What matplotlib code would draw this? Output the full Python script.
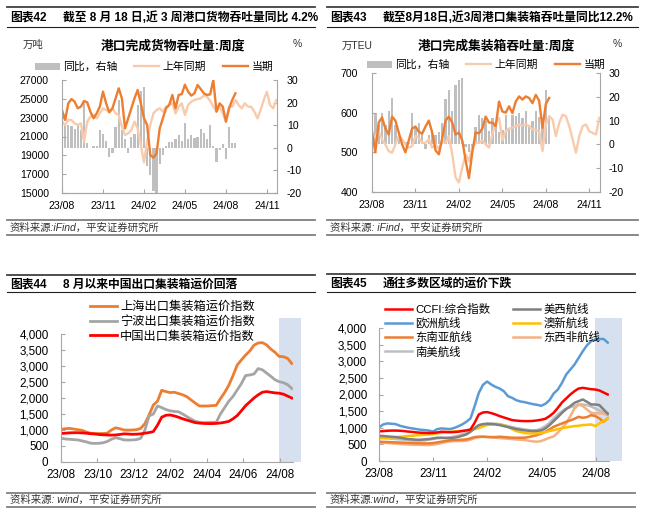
import matplotlib
matplotlib.use('Agg')
import matplotlib.pyplot as plt
import numpy as np
from matplotlib.lines import Line2D
from matplotlib.patches import Rectangle
from matplotlib.ticker import FuncFormatter

plt.rcParams['font.family'] = ['Liberation Sans', 'Noto Sans CJK SC']
plt.rcParams['axes.unicode_minus'] = False

# ---------------- data ----------------
# weekly, first point = early Aug 2023
port_months = ['23/08', '23/11', '24/02', '24/05', '24/08', '24/11']

# 图表42 port cargo throughput (万吨), yoy in %
cargo_now = [23800, 22750, 24520, 24980, 24700, 24000, 24170, 24770, 24630, 23640,
             22930, 23460, 24170, 25760, 24520, 23570, 23990, 25050, 26120, 25050,
             21870, 22930, 23990, 25050, 25940, 24520, 22930, 22220, 19040, 18750,
             19210, 21870, 22930, 23990, 24350, 25410, 23990, 25410, 25500, 26500,
             25760, 25340, 25580, 26470, 26040, 25580, 25410, 25480, 27000, 23640,
             24520, 24170, 22580, 23990, 24880, 25580]
cargo_last = [22575, 22221, 22752, 22752, 22398, 22221, 22398, 20451, 22575, 23106,
              23283, 22929, 23460, 23991, 23814, 23637, 23991, 23460, 23283, 22044,
              21159, 21336, 21690, 22575, 21867, 20097, 18256, 20451, 22221, 23460,
              23814, 23991, 23637, 24168, 24345, 24522, 23460, 24168, 24522, 23283,
              24345, 24699, 24876, 24982, 25053, 25336, 25230, 24770, 24168, 23637,
              24168, 23460, 22575, 24168, 24168, 24876, 24345, 23991, 24522, 24168,
              24168, 23637, 22929, 23814, 24876, 25761, 24345, 23991, 24876]
cargo_yoy = [2, 10, 10, 9.5, 8.5, 10, 8, 20, 2, 0,
             1, 1, 8, 6, 3, -4, -2.5, 9, 21, 8,
             4, -2.5, 5, 6, 19, 25, 27, -8, -12, -19,
             -20, -7, -3, 1, 2.5, 2.5, 4, 5.5, 3, 11,
             4, 5.5, 4.5, 5, 8.5, 6.5, 4, 10, 1, -6.5,
             -1, 1.5, -5, 9, 2, 2]

# 图表43 port container throughput (万TEU), yoy in %
teu_now = [553, 500, 575, 588, 560, 545, 590, 580, 550, 520,
           500, 530, 560, 565, 552, 547, 565, 580, 550, 505,
           495, 535, 580, 590, 575, 545, 550, 530, 480, 435,
           500, 550, 548, 560, 590, 575, 575, 566, 628, 603,
           600, 616, 599, 628, 641, 633, 641, 637, 624, 645,
           630, 562, 622, 637]
teu_last = [528, 541, 553, 533, 520, 503, 499, 520, 541, 533,
            520, 512, 516, 541, 537, 524, 524, 533, 512, 520,
            508, 528, 524, 541, 495, 437, 424, 462, 495, 478,
            512, 524, 524, 530, 520, 512, 545, 575, 587, 530,
            553, 560, 562, 566, 570, 568, 570, 566, 558, 556,
            553, 503, 570, 591, 583, 541, 574, 595, 591, 566,
            533, 499, 541, 566, 570, 553, 549, 545, 587]
teu_yoy = [14, 13, 8, 13, 8, 14, 19.5, 8, 5, 1,
           1, 0.5, 13, 7, 9, 5, -2, 4, 6, 4,
           5, 9, 19, 23, 14, 25, 27, 28, -1, -3,
           -1.5, 7.5, 12.5, 11, 10, 5.5, 11, 9.5, 5, 6,
           12.5, 7, 12.5, 12, 13, 11, 14, 8, 10, 14,
           11.5, 11, 23, 11]

# 图表44 export container freight indices
frt_months_44 = ['23/08', '23/10', '23/12', '24/02', '24/04', '24/06', '24/08']
scfi = [1020, 1040, 1050, 1030, 1010, 990, 940, 900, 890, 890,
        890, 900, 1000, 1070, 1040, 1000, 995, 1000, 1010, 1050,
        1200, 1470, 1780, 1900, 2240, 2200, 2170, 2180, 2140, 2100,
        2040, 1940, 1840, 1750, 1750, 1750, 1760, 1770, 1980, 2170,
        2400, 2700, 3030, 3190, 3340, 3470, 3650, 3720, 3730, 3660,
        3530, 3430, 3300, 3290, 3240, 3080]
ncfi = [740, 720, 710, 700, 690, 660, 630, 590, 580, 585,
        600, 640, 710, 760, 730, 690, 685, 690, 700, 740,
        1000, 1440, 1500, 1750, 1700, 1640, 1600, 1580, 1570, 1500,
        1420, 1340, 1270, 1240, 1230, 1235, 1240, 1240, 1500, 1700,
        1900, 2050, 2250, 2450, 2700, 2720, 2750, 2920, 2880, 2780,
        2680, 2570, 2510, 2480, 2420, 2300]
ccfi = [890, 900, 910, 915, 915, 910, 900, 885, 875, 860,
        850, 845, 840, 845, 860, 880, 875, 865, 870, 880,
        900, 920, 950, 1150, 1400, 1460, 1470, 1440, 1400, 1350,
        1310, 1270, 1230, 1215, 1205, 1200, 1200, 1205, 1220, 1240,
        1270, 1350, 1450, 1600, 1760, 1880, 2000, 2100, 2180, 2200,
        2180, 2160, 2150, 2120, 2060, 2000]

# 图表45 CCFI routes
frt_months_45 = ['23/08', '23/11', '24/02', '24/05', '24/08']
europe = [1010, 1100, 1130, 1120, 1110, 1060, 1030, 1000, 980, 960,
          940, 930, 915, 885, 960, 980, 970, 960, 990, 1040,
          1100, 1180, 1280, 1650, 2050, 2290, 2390, 2300, 2230, 2180,
          2100, 1950, 1900, 1830, 1790, 1770, 1740, 1710, 1690, 1660,
          1720, 1830, 2030, 2150, 2350, 2600, 2750, 2900, 3100, 3300,
          3480, 3600, 3660, 3670, 3670, 3560]
us_west = [760, 750, 740, 730, 720, 700, 680, 660, 650, 640,
           640, 650, 660, 680, 700, 700, 690, 690, 700, 720,
           760, 800, 880, 980, 1080, 1110, 1120, 1110, 1100, 1080,
           1050, 1020, 990, 960, 940, 920, 910, 900, 905, 920,
           980, 1080, 1200, 1320, 1450, 1560, 1650, 1750, 1800, 1850,
           1780, 1700, 1700, 1680, 1550, 1420]
s_america = [700, 690, 680, 670, 660, 650, 640, 630, 620, 615,
             610, 620, 640, 660, 680, 690, 700, 710, 730, 760,
             800, 850, 920, 1000, 1060, 1100, 1120, 1130, 1120, 1100,
             1080, 1050, 1020, 990, 970, 950, 930, 920, 930, 980,
             1050, 1150, 1280, 1400, 1500, 1580, 1620, 1650, 1700, 1700,
             1680, 1640, 1580, 1520, 1470, 1440]
aus_nz = [680, 690, 700, 710, 720, 730, 740, 750, 760, 770,
          780, 790, 800, 810, 830, 850, 860, 880, 890, 900,
          910, 920, 940, 960, 990, 1040, 1080, 1100, 1110, 1110,
          1070, 1030, 960, 900, 870, 840, 830, 830, 830, 840,
          870, 900, 930, 960, 990, 1010, 1030, 1050, 1060, 1080,
          1090, 1100, 1050, 1130, 1200, 1280]
se_asia = [580, 575, 570, 565, 560, 555, 550, 545, 540, 535,
           530, 530, 530, 540, 560, 580, 600, 620, 630, 630,
           640, 650, 680, 720, 730, 730, 725, 720, 720, 730,
           720, 710, 700, 700, 700, 700, 720, 750, 780, 820,
           880, 950, 1030, 1080, 1130, 1180, 1220, 1270, 1330, 1300,
           1320, 1380, 1350, 1280, 1180, 1280]
w_africa = [550, 545, 540, 530, 520, 510, 500, 495, 490, 490,
            485, 480, 480, 490, 510, 540, 570, 590, 600, 600,
            600, 610, 640, 690, 720, 730, 720, 710, 700, 690,
            680, 670, 660, 650, 640, 630, 610, 590, 580, 600,
            650, 700, 740, 850, 1000, 1130, 1350, 1580, 1700, 1650,
            1550, 1450, 1430, 1440, 1420, 1380]

# ---------------- layout helpers (pixel coords, origin top-left) ----------------
W, H = 650, 525
fig = plt.figure(figsize=(W / 100, H / 100), dpi=100)


def box(x0, y0, x1, y1):
    return [x0 / W, 1 - y1 / H, (x1 - x0) / W, (y1 - y0) / H]


def put(x, y, s, **kw):
    return fig.text(x / W, 1 - y / H, s, **kw)


def rule(x0, x1, y, lw=1.0, color='black'):
    fig.add_artist(Line2D([x0 / W, x1 / W], [1 - y / H, 1 - y / H], lw=lw, color=color))


def header(x0, x1, num, title, y_top, y_title, y_under):
    rule(x0, x1, y_top, lw=1.3, color='#404040')
    put(x0 + 3, y_title, num, fontsize=8.5, fontweight='bold', va='center')
    put(x0 + 56, y_title, title, fontsize=8.5, fontweight='bold', va='center')
    rule(x0, x1, y_under, lw=0.8, color='#202020')


def source(x0, x1, s, y_top, y_text, y_bot):
    rule(x0, x1, y_top, lw=1.3, color='#7f7f7f')
    put(x0 + 3, y_text, s, fontsize=7.5, style='italic', va='center', color='#333333')
    rule(x0, x1, y_bot, lw=1.3, color='#7f7f7f')


def style(ax, size):
    for s in ax.spines.values():
        s.set_color('#A6A6A6')
        s.set_linewidth(0.8)
    ax.tick_params(direction='in', length=3, width=0.8, color='#A6A6A6', labelsize=size)


thousands = FuncFormatter(lambda v, p: f'{v:,.0f}')


def port_panel(rect, now, last, yoy, ylim, ystep, lpad, rpad):
    ax = fig.add_axes(box(*rect))
    ax2 = ax.twinx()
    # lines above the bars of the twin axis
    ax.set_zorder(ax2.get_zorder() + 1)
    ax.patch.set_visible(False)
    bars = ax2.bar(np.arange(len(yoy)), yoy, width=0.7, color='#BFBFBF')
    l1, = ax.plot(np.arange(len(last)), last, color='#F8CBAD', lw=1.7)
    l2, = ax.plot(np.arange(len(now)), now, color='#ED7D31', lw=1.7)
    ax.set_xlim(0, 68.2)
    ax.set_ylim(*ylim)
    ax.set_yticks(np.arange(ylim[0], ylim[1] + 1, ystep))
    ax2.set_ylim(-20, 30)
    ax2.set_yticks(range(-20, 31, 10))
    ax.set_xticks(np.arange(len(port_months)) * 13)
    ax.set_xticklabels(port_months)
    for a in (ax, ax2):
        style(a, 7.6)
        a.spines['top'].set_visible(False)
    ax.spines['right'].set_visible(False)
    ax2.spines['left'].set_visible(False)
    ax.tick_params(axis='y', pad=lpad)
    ax.tick_params(axis='x', pad=6)
    ax2.tick_params(axis='y', pad=rpad)
    return bars, l1, l2


def leg_top(handles, cx, cy):
    fig.legend(handles, ['同比，右轴', '上年同期', '当期'], loc='center',
               bbox_to_anchor=(cx / W, 1 - cy / H), ncol=3, frameon=False,
               fontsize=7.8, handlelength=2.3, handletextpad=0.3, columnspacing=1.6,
               borderpad=0, borderaxespad=0)


# ---------------- 图表42 ----------------
header(7, 315, '图表42', '截至 8 月 18 日,近 3 周港口货物吞吐量同比 4.2%', 7, 18, 27)
put(173, 46, '港口完成货物吞吐量:周度', fontsize=9.2, fontweight='bold', ha='center', va='center')
put(23, 45, '万吨', fontsize=7.5, va='center', color='#333333')
put(293, 44, '%', fontsize=7.5, va='center', color='#333333')
h = port_panel((62, 80, 277, 193), cargo_now, cargo_last, cargo_yoy, (15000, 27000), 2000, 9.5, 7)
leg_top(h, 154, 67)
source(7, 315, '资料来源:iFind，平安证券研究所', 220, 228, 235)

# ---------------- 图表43 ----------------
header(327, 638, '图表43', '截至8月18日,近3周港口集装箱吞吐量同比12.2%', 7, 18, 27)
put(496, 46, '港口完成集装箱吞吐量:周度', fontsize=9.2, fontweight='bold', ha='center', va='center')
put(342, 46, '万TEU', fontsize=7.5, va='center', color='#333333')
put(613, 44, '%', fontsize=7.5, va='center', color='#333333')
h = port_panel((372, 73, 600, 192), teu_now, teu_last, teu_yoy, (400, 700), 100, 10, 6)
leg_top(h, 486, 65)
source(327, 638, '资料来源: iFind，平安证券研究所', 220, 228, 235)

# ---------------- 图表44 ----------------
header(7, 315, '图表44', '8 月以来中国出口集装箱运价回落', 275, 285, 292)
ax = fig.add_axes(box(61, 334, 293, 462))
wk = np.arange(len(scfi))
ax.add_patch(Rectangle((52, 0), 5.1, 4500, color='#D6E0EE', lw=0, zorder=0, clip_on=False))
la, = ax.plot(wk, scfi, color='#ED7D31', lw=2.0)
lb, = ax.plot(wk, ncfi, color='#A5A5A5', lw=2.0)
lc, = ax.plot(wk, ccfi, color='#FF0000', lw=2.0)
ax.set_xlim(0, 55.3)
ax.set_ylim(0, 4000)
ax.set_yticks(range(0, 4001, 500))
ax.yaxis.set_major_formatter(thousands)
ax.set_xticks(np.arange(len(frt_months_44)) * 8.7)
ax.set_xticklabels(frt_months_44)
style(ax, 8.4)
ax.spines['top'].set_visible(False)
ax.spines['right'].set_visible(False)
ax.tick_params(axis='y', pad=9)
ax.tick_params(axis='x', pad=5)
fig.legend([la, lb, lc], ['上海出口集装箱运价指数', '宁波出口集装箱运价指数', '中国出口集装箱运价指数'],
           loc='center left', bbox_to_anchor=(90 / W, 1 - 322 / H), frameon=False,
           fontsize=8.8, handlelength=2.2, handletextpad=0.25, labelspacing=0.22,
           borderpad=0, borderaxespad=0)
source(7, 315, '资料来源: wind，平安证券研究所', 493, 500, 507)

# ---------------- 图表45 ----------------
header(327, 635, '图表45', '通往多数区域的运价下跌', 274, 284, 292)
ax = fig.add_axes(box(379, 328, 609, 461))
wk = np.arange(len(ccfi))
ax.add_patch(Rectangle((52, 0), 6.4, 4300, color='#D6E0EE', lw=0, zorder=0, clip_on=False))
routes = [(s_america, '#BFBFBF'), (w_africa, '#F4B183'), (se_asia, '#ED7D31'),
          (aus_nz, '#FFC000'), (us_west, '#808080'), (europe, '#5B9BD5'), (ccfi, '#FF0000')]
lines = {}
for vals, col in routes:
    lines[col], = ax.plot(wk, vals, color=col, lw=1.8)
ax.set_xlim(0, 55.3)
ax.set_ylim(0, 4000)
ax.set_yticks(range(0, 4001, 500))
ax.yaxis.set_major_formatter(thousands)
ax.set_xticks(np.arange(len(frt_months_45)) * 13.03)
ax.set_xticklabels(frt_months_45)
style(ax, 8.4)
ax.spines['top'].set_visible(False)
ax.spines['right'].set_visible(False)
ax.tick_params(axis='y', pad=8.5)
ax.tick_params(axis='x', pad=5)
order = ['#FF0000', '#5B9BD5', '#ED7D31', '#BFBFBF', '#808080', '#FFC000', '#F4B183']
names = ['CCFI:综合指数', '欧洲航线', '东南亚航线', '南美航线', '美西航线', '澳新航线', '东西非航线']
fig.legend([lines[c] for c in order], names, loc='center left', ncol=2,
           bbox_to_anchor=(385 / W, 1 - 330.5 / H), frameon=False,
           fontsize=8.2, handlelength=2.4, handletextpad=0.25, labelspacing=0.26,
           columnspacing=2.0, borderpad=0, borderaxespad=0)
source(327, 635, '资料来源:wind，平安证券研究所', 493, 500, 507)

fig.savefig('out.png', dpi=100)
